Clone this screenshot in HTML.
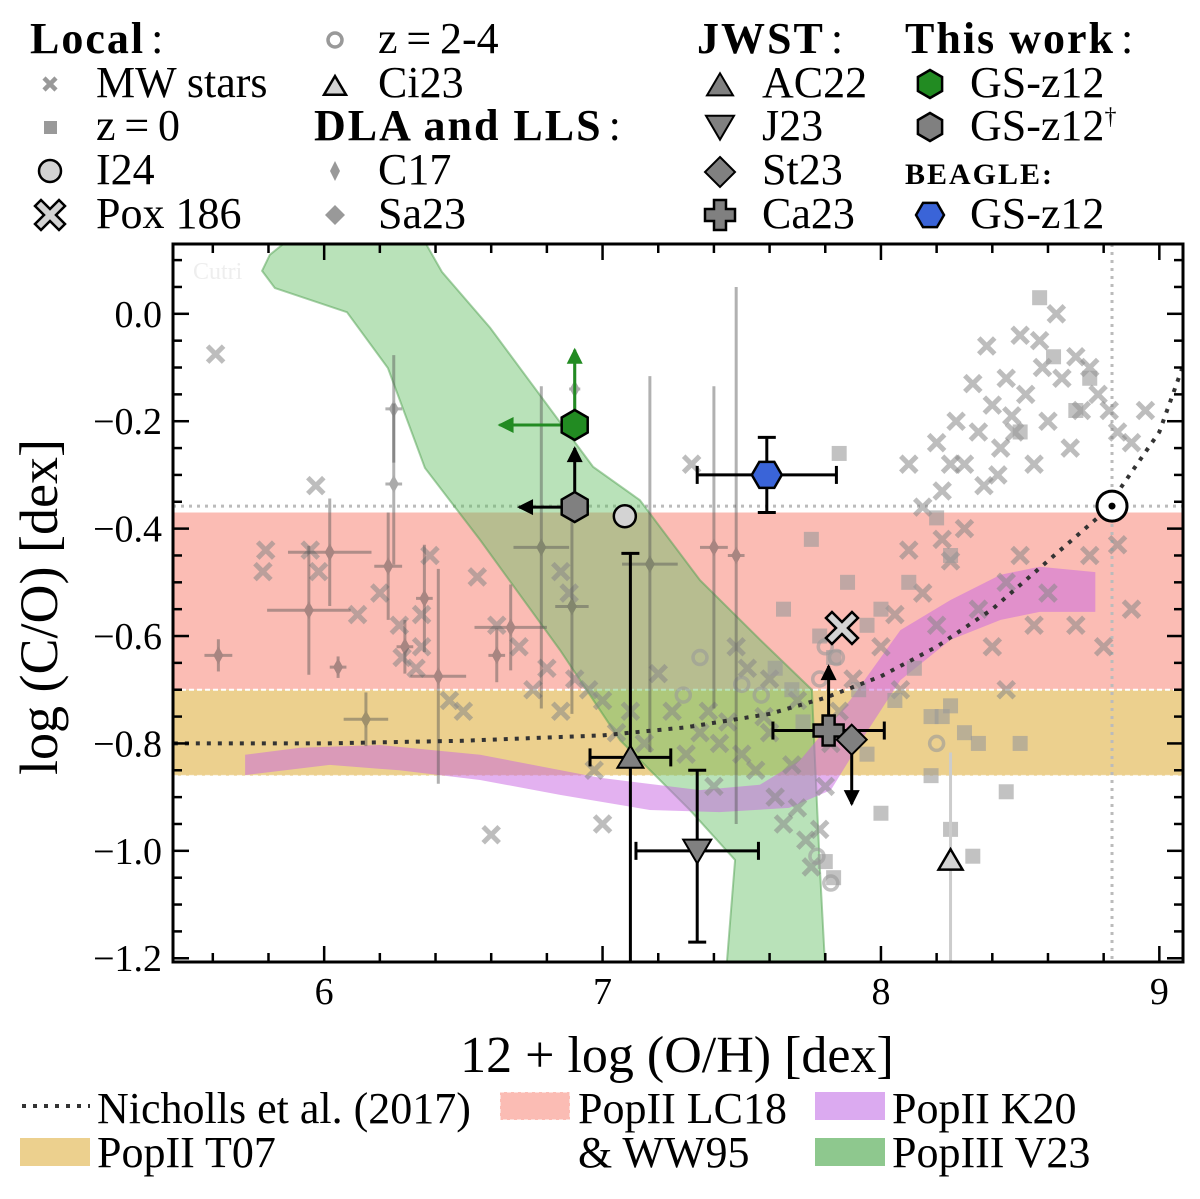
<!DOCTYPE html>
<html><head><meta charset="utf-8"><style>
html,body{margin:0;padding:0;background:#fff;}
svg{display:block;font-family:"Liberation Serif",serif;}
</style></head><body>
<svg id="chart" width="1200" height="1199" viewBox="0 0 1200 1199" xmlns="http://www.w3.org/2000/svg">
<defs>
<clipPath id="plotclip"><rect x="173" y="244" width="1010" height="718"/></clipPath>
</defs>
<g id="plot" clip-path="url(#plotclip)"></g>
<g id="axes"></g>
<g id="legend"></g>
</svg>
<script>
// ===== data =====
const xDomain=[5.457,9.085], yDomain=[-1.207,0.13];
const xTicks=[6,7,8,9];
const yTicks=[0.0,-0.2,-0.4,-0.6,-0.8,-1.0,-1.2];
const yTickLabels=["0.0","\u22120.2","\u22120.4","\u22120.6","\u22120.8","\u22121.0","\u22121.2"];
const redBand=[-0.37,-0.70];
const yellowBand=[-0.70,-0.86];
const solarCO=-0.358, solarOH=8.83;
const nichollsX=[5.46,6.0,6.5,7.0,7.3,7.6,7.8,8.0,8.2,8.4,8.6,8.8,9.0,9.09];
const nichollsY=[-0.80,-0.80,-0.795,-0.785,-0.77,-0.745,-0.715,-0.675,-0.62,-0.55,-0.46,-0.37,-0.22,-0.09];
const v23X=[6.355,6.423,6.596,6.966,7.134,7.35,7.566,7.752,7.763,7.781,7.803,7.44,7.476,7.314,7.063,6.847,6.56,6.362,6.229,6.082,5.823,5.777,5.805,5.877];
const v23Y=[0.14,0.078,-0.026,-0.285,-0.347,-0.496,-0.607,-0.70,-0.831,-1.036,-1.25,-1.25,-1.017,-0.924,-0.794,-0.626,-0.421,-0.287,-0.101,0.003,0.048,0.08,0.11,0.14];
const k20TopX=[5.716,5.913,6.2,6.56,6.99,7.35,7.565,7.71,7.89,8.07,8.25,8.43,8.57,8.77];
const k20Top=[-0.821,-0.808,-0.803,-0.821,-0.864,-0.887,-0.877,-0.831,-0.719,-0.589,-0.533,-0.486,-0.471,-0.481];
const k20BotX=[8.77,8.57,8.43,8.25,8.07,7.93,7.82,7.67,7.42,7.17,6.85,6.56,6.27,6.02,5.716];
const k20Bot=[-0.555,-0.555,-0.57,-0.607,-0.682,-0.794,-0.887,-0.92,-0.928,-0.924,-0.896,-0.868,-0.85,-0.84,-0.859];
const mwX=[5.61,5.97,5.95,5.98,6.12,6.2,6.27,6.28,6.33,6.35,6.38,6.35,6.45,6.5,6.55,6.62,6.7,6.75,6.8,6.85,6.9,6.95,7.0,7.05,7.1,7.2,7.25,7.3,7.35,7.4,7.45,7.5,7.55,7.6,7.62,7.65,7.68,7.7,7.73,7.75,7.78,7.8,7.7,7.6,7.0,6.88,6.97,7.48,7.52,7.38,7.15,7.42,7.58,7.82,7.85,7.9,8.0,8.05,8.07,8.1,8.15,8.2,8.25,8.3,8.35,8.4,8.45,8.5,8.55,8.6,8.7,8.75,8.85,8.9,8.8,8.45,8.1,8.15,8.2,8.22,8.27,8.3,8.33,8.35,8.38,8.4,8.42,8.45,8.48,8.5,8.52,8.55,8.58,8.6,8.63,8.65,8.68,8.7,8.72,8.75,8.78,8.82,8.85,8.9,8.95,8.57,8.47,8.43,8.37,8.25,6.6,5.79,5.78,6.85,8.22,7.32];
const mwY=[-0.075,-0.32,-0.44,-0.48,-0.56,-0.52,-0.58,-0.64,-0.66,-0.62,-0.45,-0.56,-0.72,-0.74,-0.49,-0.58,-0.62,-0.7,-0.66,-0.74,-0.68,-0.7,-0.72,-0.78,-0.74,-0.67,-0.74,-0.82,-0.78,-0.88,-0.76,-0.82,-0.85,-0.78,-0.9,-0.95,-0.84,-0.92,-0.98,-1.03,-0.96,-0.88,-0.72,-0.68,-0.95,-0.52,-0.85,-0.62,-0.66,-0.74,-0.8,-0.8,-0.75,-0.8,-0.74,-0.68,-0.62,-0.56,-0.7,-0.44,-0.52,-0.58,-0.46,-0.4,-0.55,-0.62,-0.5,-0.45,-0.58,-0.52,-0.58,-0.45,-0.43,-0.55,-0.62,-0.7,-0.28,-0.36,-0.24,-0.33,-0.2,-0.28,-0.13,-0.22,-0.06,-0.17,-0.3,-0.12,-0.22,-0.04,-0.15,-0.28,-0.1,-0.2,0.0,-0.12,-0.25,-0.08,-0.18,-0.1,-0.15,-0.18,-0.22,-0.24,-0.18,-0.05,-0.19,-0.25,-0.32,-0.28,-0.97,-0.44,-0.48,-0.48,-0.42,-0.28];
const z0X=[8.57,8.62,8.7,8.75,8.5,7.85,8.2,8.25,8.1,8.0,7.95,7.88,7.75,7.65,7.78,7.83,7.62,7.68,7.72,7.92,8.05,8.12,8.18,8.22,8.25,8.3,8.35,8.45,8.0,7.8,7.83,8.33,8.25,8.5,7.95,8.18];
const z0Y=[0.03,-0.08,-0.18,-0.12,-0.22,-0.26,-0.38,-0.45,-0.5,-0.55,-0.58,-0.5,-0.42,-0.55,-0.6,-0.64,-0.66,-0.7,-0.76,-0.7,-0.72,-0.66,-0.75,-0.75,-0.73,-0.78,-0.8,-0.89,-0.93,-1.02,-1.05,-1.01,-0.96,-0.8,-0.82,-0.86];
const hizX=[7.35,7.29,7.5,7.8,7.84,7.78,8.2,7.77,7.82,7.57];
const hizY=[-0.64,-0.71,-0.69,-0.62,-0.64,-0.68,-0.8,-1.01,-1.06,-0.71];
const dlaX=[5.62,5.945,6.02,6.25,6.25,6.23,6.36,6.41,6.05,6.15,6.29,6.67,6.62,6.78,6.89,7.17,7.40,7.48,6.90];
const dlaY=[-0.636,-0.552,-0.444,-0.177,-0.317,-0.47,-0.53,-0.675,-0.658,-0.755,-0.62,-0.584,-0.636,-0.435,-0.545,-0.466,-0.435,-0.45,-0.14];
const dlaXerr=[0.05,0.15,0.15,0.03,0.03,0.05,0.03,0.1,0.03,0.08,0.03,0.13,0.03,0.1,0.06,0.1,0.05,0.03,0.02];
const dlaYerr=[0.03,0.12,0.1,0.1,0.15,0.1,0.1,0.2,0.02,0.05,0.05,0.08,0.05,0.3,0.2,0.35,0.3,0.5,0.05];
const gsz12=[6.90,-0.207], gsz12Dag=[6.90,-0.36], beagle=[7.59,-0.30], beagleErr=[0.25,0.07];
const i24=[7.08,-0.377], pox186=[7.86,-0.585];
const ac22=[7.10,-0.826], ac22Err=[0.145,0.38,0.5];
const ci23=[8.25,-1.017], ci23Err=[0.2,0.3];
const j23=[7.34,-1.0], j23Err=[0.22,0.15,0.17];
const st23=[7.895,-0.793], ca23=[7.812,-0.776], ca23Err=[0.2];

// ===== helpers =====
const NS="http://www.w3.org/2000/svg";
const X0=173,X1=1183,Y0=244,Y1=962;
function sx(v){return X0+(v-xDomain[0])/(xDomain[1]-xDomain[0])*(X1-X0);}
function sy(v){return Y0+(yDomain[1]-v)/(yDomain[1]-yDomain[0])*(Y1-Y0);}
function el(tag,attrs,parent){const e=document.createElementNS(NS,tag);for(const k in attrs)e.setAttribute(k,attrs[k]);parent.appendChild(e);return e;}
const plot=document.getElementById('plot'),axes=document.getElementById('axes'),legend=document.getElementById('legend');

function hexPts(cx,cy,r){let p=[];for(let i=0;i<6;i++){const a=Math.PI/180*(60*i-90);p.push((cx+r*Math.cos(a)).toFixed(1)+','+(cy+r*Math.sin(a)).toFixed(1));}return p.join(' ');}
function triPts(cx,cy,r,down){return down?`${cx-r},${cy-r*0.8} ${cx+r},${cy-r*0.8} ${cx},${cy+r*0.9}`:`${cx-r},${cy+r*0.8} ${cx+r},${cy+r*0.8} ${cx},${cy-r*0.9}`;}
function crossPath(cx,cy,s){return `M${cx-s},${cy-s}L${cx+s},${cy+s}M${cx-s},${cy+s}L${cx+s},${cy-s}`;}
function xShape(cx,cy,a,b){
 const pts=[[0,-b],[a-b,-a],[a,-(a-b)],[b,0],[a,a-b],[a-b,a],[0,b],[-(a-b),a],[-a,a-b],[-b,0],[-a,-(a-b)],[-(a-b),-a]];
 return pts.map(p=>(cx+p[0])+','+(cy+p[1])).join(' ');}
function plusShape(cx,cy,a,b){const pts=[[-b,-a],[b,-a],[b,-b],[a,-b],[a,b],[b,b],[b,a],[-b,a],[-b,b],[-a,b],[-a,-b],[-b,-b]];return pts.map(p=>(cx+p[0])+','+(cy+p[1])).join(' ');}
function arrow(x1,y1,x2,y2,color,g,w){
 el('line',{x1:x1,y1:y1,x2:x2,y2:y2,stroke:color,'stroke-width':w||3},g);
 const dx=x2-x1,dy=y2-y1,L=Math.hypot(dx,dy),ux=dx/L,uy=dy/L,h=14,hw=8;
 el('polygon',{points:`${x2+ux*2},${y2+uy*2} ${x2-ux*h-uy*hw},${y2-uy*h+ux*hw} ${x2-ux*h+uy*hw},${y2-uy*h-ux*hw}`,fill:color},g);
}

// ===== bands =====
let b=el('rect',{x:X0,y:sy(redBand[0]),width:X1-X0,height:sy(redBand[1])-sy(redBand[0]),fill:'#fbbcb4'},plot);

b=el('rect',{x:X0,y:sy(yellowBand[0]),width:X1-X0,height:sy(yellowBand[1])-sy(yellowBand[0]),fill:'#ecd08e'},plot);

el('line',{x1:X0,x2:X1,y1:sy(redBand[1]),y2:sy(redBand[1]),stroke:'#fff','stroke-width':2,'stroke-dasharray':'5,3'},plot);
el('line',{x1:X0,x2:X1,y1:sy(yellowBand[1]),y2:sy(yellowBand[1]),stroke:'#fff','stroke-width':1.5,'stroke-dasharray':'5,3',opacity:0.7},plot);
let sl=el('line',{x1:X0,x2:X1,y1:sy(solarCO),y2:sy(solarCO),stroke:'#bbb','stroke-width':3,'stroke-dasharray':'3,5'},plot);

sl=el('line',{x1:sx(solarOH),x2:sx(solarOH),y1:Y0,y2:Y1,stroke:'#bbb','stroke-width':3,'stroke-dasharray':'3,5'},plot);

el('text',{x:193,y:279,'font-size':24,fill:'#eee'},plot).textContent='Cutri';

let pv=el('polygon',{points:v23X.map((x,i)=>sx(x)+','+sy(v23Y[i])).join(' '),fill:'rgba(100,190,100,0.45)',stroke:'rgba(80,160,80,0.5)','stroke-width':2},plot);

let kp=[];for(let i=0;i<k20Top.length;i++)kp.push(sx(k20TopX[i])+','+sy(k20Top[i]));
for(let i=0;i<k20Bot.length;i++)kp.push(sx(k20BotX[i])+','+sy(k20Bot[i]));
let pk=el('polygon',{points:kp.join(' '),fill:'rgba(200,100,225,0.5)'},plot);


mwX.forEach((x,i)=>{const p=el('path',{d:crossPath(sx(x),sy(mwY[i]),8),stroke:'#888','stroke-width':5,opacity:0.55},plot);
});
z0X.forEach((x,i)=>{const p=el('rect',{x:sx(x)-7.5,y:sy(z0Y[i])-7.5,width:15,height:15,fill:'#999',opacity:0.6},plot);
});
hizX.forEach((x,i)=>{const p=el('circle',{cx:sx(x),cy:sy(hizY[i]),r:7,fill:'none',stroke:'#999','stroke-width':3.5,opacity:0.6},plot);
});
dlaX.forEach((x,i)=>{const g=el('g',{opacity:0.45},plot);

const cx=sx(x),cy=sy(dlaY[i]);
el('line',{x1:sx(x-dlaXerr[i]),x2:sx(x+dlaXerr[i]),y1:cy,y2:cy,stroke:'#555','stroke-width':3},g);
el('line',{x1:cx,x2:cx,y1:sy(dlaY[i]-dlaYerr[i]),y2:sy(dlaY[i]+dlaYerr[i]),stroke:'#555','stroke-width':3},g);
el('polygon',{points:`${cx},${cy-9} ${cx+5},${cy} ${cx},${cy+9} ${cx-5},${cy}`,fill:'#444'},g);});

let nc=el('polyline',{points:nichollsX.map((x,i)=>sx(x)+','+sy(nichollsY[i])).join(' '),fill:'none',stroke:'#333','stroke-width':4,'stroke-dasharray':'4,7'},plot);


let g=el('g',{},plot);
el('line',{x1:sx(ci23[0]),x2:sx(ci23[0]),y1:sy(ci23[1]+ci23Err[0]),y2:sy(ci23[1]-ci23Err[1]),stroke:'#ccc','stroke-width':3},g);
el('polygon',{points:triPts(sx(ci23[0]),sy(ci23[1]),12,false),fill:'#d3d3d3',stroke:'#000','stroke-width':2.5},g);
g=el('g',{},plot);
let cx=sx(ac22[0]),cy=sy(ac22[1]);
el('line',{x1:sx(ac22[0]-ac22Err[0]),x2:sx(ac22[0]+ac22Err[0]),y1:cy,y2:cy,stroke:'#000','stroke-width':3},g);
el('line',{x1:cx,x2:cx,y1:sy(ac22[1]+ac22Err[1]),y2:sy(ac22[1]-ac22Err[2]),stroke:'#000','stroke-width':3},g);
el('line',{x1:cx-9,x2:cx+9,y1:sy(ac22[1]+ac22Err[1]),y2:sy(ac22[1]+ac22Err[1]),stroke:'#000','stroke-width':3},g);
[-1,1].forEach(s=>el('line',{x1:sx(ac22[0]+s*ac22Err[0]),x2:sx(ac22[0]+s*ac22Err[0]),y1:cy-9,y2:cy+9,stroke:'#000','stroke-width':3},g));
el('polygon',{points:triPts(cx,cy,13,false),fill:'#808080',stroke:'#000','stroke-width':2},g);
g=el('g',{},plot);
cx=sx(j23[0]);cy=sy(j23[1]);
el('line',{x1:sx(j23[0]-j23Err[0]),x2:sx(j23[0]+j23Err[0]),y1:cy,y2:cy,stroke:'#000','stroke-width':3},g);
el('line',{x1:cx,x2:cx,y1:sy(j23[1]+j23Err[1]),y2:sy(j23[1]-j23Err[2]),stroke:'#000','stroke-width':3},g);
el('line',{x1:cx-9,x2:cx+9,y1:sy(j23[1]+j23Err[1]),y2:sy(j23[1]+j23Err[1]),stroke:'#000','stroke-width':3},g);
el('line',{x1:cx-9,x2:cx+9,y1:sy(j23[1]-j23Err[2]),y2:sy(j23[1]-j23Err[2]),stroke:'#000','stroke-width':3},g);
[-1,1].forEach(s=>el('line',{x1:sx(j23[0]+s*j23Err[0]),x2:sx(j23[0]+s*j23Err[0]),y1:cy-9,y2:cy+9,stroke:'#000','stroke-width':3},g));
el('polygon',{points:triPts(cx,cy,14,true),fill:'#808080',stroke:'#000','stroke-width':2},g);
g=el('g',{},plot);
cx=sx(ca23[0]);cy=sy(ca23[1]);
el('line',{x1:sx(ca23[0]-ca23Err[0]),x2:sx(ca23[0]+ca23Err[0]),y1:cy,y2:cy,stroke:'#000','stroke-width':3},g);
[-1,1].forEach(s=>el('line',{x1:sx(ca23[0]+s*ca23Err[0]),x2:sx(ca23[0]+s*ca23Err[0]),y1:cy-9,y2:cy+9,stroke:'#000','stroke-width':3},g));
arrow(cx,cy,cx,sy(ca23[1]+0.12),'#000',g);
let g2=el('g',{},plot);
let sx2=sx(st23[0]),sy2=sy(st23[1]);
arrow(sx2,sy2,sx2,sy(st23[1]-0.12),'#000',g2);
el('polygon',{points:`${sx2},${sy2-15} ${sx2+15},${sy2} ${sx2},${sy2+15} ${sx2-15},${sy2}`,fill:'#808080',stroke:'#000','stroke-width':2},g2);
el('polygon',{points:plusShape(cx,cy,15,6),fill:'#808080',stroke:'#000','stroke-width':2.5},g);
g=el('g',{},plot);
el('polygon',{points:xShape(sx(pox186[0]),sy(pox186[1]),16,6),fill:'#d3d3d3',stroke:'#000','stroke-width':2.5},g);
g=el('circle',{cx:sx(i24[0]),cy:sy(i24[1]),r:11,fill:'#d3d3d3',stroke:'#000','stroke-width':2.5},plot);

g=el('g',{},plot);
cx=sx(gsz12Dag[0]);cy=sy(gsz12Dag[1]);
arrow(cx,cy,cx,sy(gsz12Dag[1]+0.11),'#000',g);
arrow(cx,cy,sx(gsz12Dag[0]-0.2),cy,'#000',g);
el('polygon',{points:hexPts(cx,cy,15),fill:'#808080',stroke:'#000','stroke-width':2.5},g);
g=el('g',{},plot);
cx=sx(gsz12[0]);cy=sy(gsz12[1]);
arrow(cx,cy,cx,sy(gsz12[1]+0.14),'#228b22',g);
arrow(cx,cy,sx(gsz12[0]-0.27),cy,'#228b22',g);
el('polygon',{points:hexPts(cx,cy,15),fill:'#228b22',stroke:'#000','stroke-width':2.5},g);
g=el('g',{},plot);
cx=sx(beagle[0]);cy=sy(beagle[1]);
el('line',{x1:sx(beagle[0]-beagleErr[0]),x2:sx(beagle[0]+beagleErr[0]),y1:cy,y2:cy,stroke:'#000','stroke-width':3},g);
el('line',{x1:cx,x2:cx,y1:sy(beagle[1]+beagleErr[1]),y2:sy(beagle[1]-beagleErr[1]),stroke:'#000','stroke-width':3},g);
[-1,1].forEach(s=>{el('line',{x1:sx(beagle[0]+s*beagleErr[0]),x2:sx(beagle[0]+s*beagleErr[0]),y1:cy-9,y2:cy+9,stroke:'#000','stroke-width':3},g);
el('line',{x1:cx-9,x2:cx+9,y1:sy(beagle[1]+s*beagleErr[1]),y2:sy(beagle[1]+s*beagleErr[1]),stroke:'#000','stroke-width':3},g);});
el('polygon',{points:hexPts(cx,cy,15),transform:`rotate(30 ${cx} ${cy})`,fill:'#3a64d8',stroke:'#000','stroke-width':2.5},g);
g=el('g',{},plot);
el('circle',{cx:sx(solarOH),cy:sy(solarCO),r:15,fill:'#fff',stroke:'#000','stroke-width':3},g);
el('circle',{cx:sx(solarOH),cy:sy(solarCO),r:3.5,fill:'#000'},g);

// ===== axes =====
el('rect',{x:X0,y:Y0,width:X1-X0,height:Y1-Y0,fill:'none',stroke:'#000','stroke-width':3},axes);
for(let v=5.6;v<=9.05;v+=0.2){const x=sx(v);const major=Math.abs(v-Math.round(v))<0.01;const L=major?16:9;
el('line',{x1:x,x2:x,y1:Y1,y2:Y1-L,stroke:'#000','stroke-width':2.5},axes);el('line',{x1:x,x2:x,y1:Y0,y2:Y0+L,stroke:'#000','stroke-width':2.5},axes);}
for(let v=-1.2;v<=0.11;v+=0.05){const y=sy(v);const major=Math.abs(v*5-Math.round(v*5))<0.01;const L=major?16:9;
el('line',{x1:X0,x2:X0+L,y1:y,y2:y,stroke:'#000','stroke-width':2.5},axes);el('line',{x1:X1,x2:X1-L,y1:y,y2:y,stroke:'#000','stroke-width':2.5},axes);}
xTicks.forEach(v=>{const t=el('text',{x:sx(v),y:1004,'font-size':38,'text-anchor':'middle'},axes);t.textContent=String(v);
});
yTicks.forEach((v,i)=>{const t=el('text',{x:162,y:sy(v)+13,'font-size':38,'text-anchor':'end'},axes);t.textContent=yTickLabels[i];
});
let t=el('text',{x:677,y:1072,'font-size':52,'text-anchor':'middle'},axes);t.textContent='12 + log (O/H) [dex]';

t=el('text',{x:0,y:0,'font-size':54,'text-anchor':'middle',transform:'translate(57,607) rotate(-90)'},axes);t.textContent='log (C/O) [dex]';


// ===== top legend =====
function txt(x,y,s,opts){const e=el('text',Object.assign({x:x,y:y,'font-size':44},opts||{}),legend);e.textContent=s;return e;}
function hdr(x,y,s){const e=el('text',{x:x,y:y,'font-size':44},legend);const a=document.createElementNS(NS,'tspan');a.setAttribute('font-weight','bold');a.setAttribute('letter-spacing','2');a.textContent=s;e.appendChild(a);const c=document.createElementNS(NS,'tspan');c.setAttribute('dx','6');c.textContent=':';e.appendChild(c);
}
const R=[53,97,140,184,228];
hdr(30,R[0],'Local');
el('path',{d:crossPath(50,84,6),stroke:'#999','stroke-width':4.5},legend);txt(96,R[1],'MW stars');
el('rect',{x:44,y:121,width:13,height:13,fill:'#999'},legend);txt(96,R[2],'z\u2009=\u20090');
el('circle',{cx:50,cy:171,r:11,fill:'#d3d3d3',stroke:'#000','stroke-width':2.5},legend);txt(96,R[3],'I24');
el('polygon',{points:xShape(50,215,15,6),fill:'#d3d3d3',stroke:'#000','stroke-width':2.5},legend);txt(96,R[4],'Pox 186');
el('circle',{cx:335,cy:40,r:7,fill:'none',stroke:'#999','stroke-width':3.5},legend);txt(378,R[0],'z\u2009=\u20092-4');
el('polygon',{points:triPts(335,86,11,false),fill:'#d3d3d3',stroke:'#000','stroke-width':2.5},legend);txt(378,R[1],'Ci23');
hdr(314,R[2],'DLA and LLS');
el('polygon',{points:'335,161 340,171 335,181 330,171',fill:'#999'},legend);txt(378,R[3],'C17');
el('polygon',{points:'335,205 345,215 335,225 325,215',fill:'#999'},legend);txt(378,R[4],'Sa23');
hdr(697,R[0],'JWST');
el('polygon',{points:triPts(720,85,13,false),fill:'#808080',stroke:'#000','stroke-width':2},legend);txt(762,R[1],'AC22');
el('polygon',{points:triPts(720,127,14,true),fill:'#808080',stroke:'#000','stroke-width':2},legend);txt(762,R[2],'J23');
el('polygon',{points:'720,157 735,172 720,187 705,172',fill:'#808080',stroke:'#000','stroke-width':2},legend);txt(762,R[3],'St23');
el('polygon',{points:plusShape(720,215,15,6),fill:'#808080',stroke:'#000','stroke-width':2.5},legend);txt(762,R[4],'Ca23');
hdr(905,R[0],'This work');
el('polygon',{points:hexPts(930,84,14),fill:'#228b22',stroke:'#000','stroke-width':2.5},legend);txt(970,R[1],'GS-z12');
el('polygon',{points:hexPts(930,127,14),fill:'#808080',stroke:'#000','stroke-width':2.5},legend);
t=txt(970,R[2],'GS-z12');const dg=document.createElementNS(NS,'tspan');dg.setAttribute('font-size',24);dg.setAttribute('dy',-16);dg.textContent='\u2020';t.appendChild(dg);
t=el('text',{x:905,y:184,'font-size':30,'font-weight':'bold','letter-spacing':2},legend);t.textContent='BEAGLE:';

el('polygon',{points:hexPts(930,215,14),transform:'rotate(30 930 215)',fill:'#3a64d8',stroke:'#000','stroke-width':2.5},legend);txt(970,R[4],'GS-z12');

// ===== bottom legend =====
el('line',{x1:22,x2:90,y1:1106,y2:1106,stroke:'#333','stroke-width':4,'stroke-dasharray':'4,7'},legend);txt(97,1123,'Nicholls et al. (2017)');
el('rect',{x:500,y:1092,width:70,height:28,fill:'#fbbcb4',stroke:'#fff','stroke-dasharray':'4,3'},legend);txt(578,1123,'PopII LC18');txt(578,1167,'& WW95');
el('rect',{x:815,y:1092,width:70,height:28,fill:'#dbaaf0'},legend);txt(892,1123,'PopII K20');
el('rect',{x:20,y:1138,width:70,height:28,fill:'#ecd08e'},legend);txt(97,1167,'PopII T07');
el('rect',{x:815,y:1138,width:70,height:28,fill:'#8ec88e'},legend);txt(892,1167,'PopIII V23');
</script>
</body></html>
